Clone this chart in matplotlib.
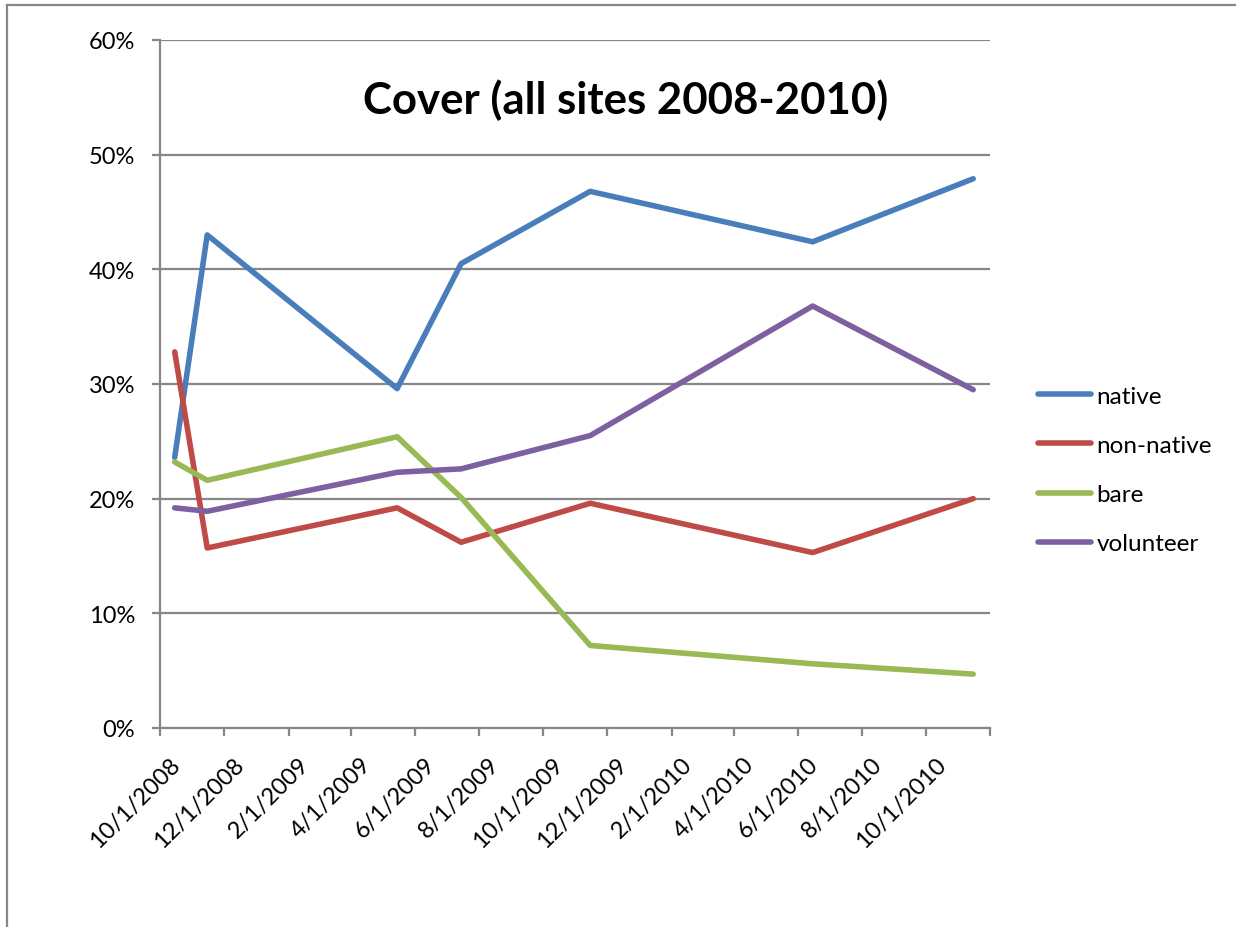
import matplotlib
matplotlib.use("Agg")
import matplotlib.pyplot as plt
import matplotlib.dates as mdates
from matplotlib.transforms import ScaledTranslation
from matplotlib.lines import Line2D
import datetime as dt

plt.rcParams['font.family'] = ['Lato', 'DejaVu Sans']

# ---- data ----
sample_dates = ["2008-10-15", "2008-11-15", "2009-05-15", "2009-07-15",
                "2009-11-15", "2010-06-15", "2010-11-15"]
native = [23.6, 43.0, 29.6, 40.5, 46.8, 42.4, 47.9]
non_native = [32.8, 15.7, 19.2, 16.2, 19.6, 15.3, 20.0]
bare = [23.2, 21.6, 25.4, 20.1, 7.2, 5.6, 4.7]
volunteer = [19.2, 18.9, 22.3, 22.6, 25.5, 36.8, 29.5]
series_names = ["native", "non-native", "bare", "volunteer"]
series_colors = ["#4A7EBB", "#BE4B48", "#98B954", "#7D60A0"]
tick_dates = ["2008-10-01", "2008-12-01", "2009-02-01", "2009-04-01", "2009-06-01",
              "2009-08-01", "2009-10-01", "2009-12-01", "2010-02-01", "2010-04-01",
              "2010-06-01", "2010-08-01", "2010-10-01", "2010-12-01"]
y_ticks = [0, 10, 20, 30, 40, 50, 60]
title = "Cover (all sites 2008-2010)"

W, H = 1236, 928
fig = plt.figure(figsize=(W / 100, H / 100), dpi=100)
ax = fig.add_axes([160 / W, 1 - 729 / H, 830 / W, 688 / H])

xd = [dt.datetime.strptime(s, "%Y-%m-%d") for s in sample_dates]
td = [dt.datetime.strptime(s, "%Y-%m-%d") for s in tick_dates]

for vals, name, col in zip([native, non_native, bare, volunteer], series_names, series_colors):
    ax.plot(xd, vals, color=col, lw=4.0, solid_capstyle='round',
            solid_joinstyle='round', label=name, zorder=3)

grid_col = "#878787"
ax.set_xlim(td[0], td[-1])
ax.set_ylim(0, 60)
ax.set_yticks(y_ticks)
ax.set_yticklabels([f"{v}%" for v in y_ticks])
ax.set_xticks([mdates.date2num(d) for d in td])
ax.set_xticklabels([f"{d.month}/{d.day}/{d.year}" for d in td[:-1]] + [""])
ax.yaxis.grid(True, color=grid_col, lw=1.6, zorder=0)
for s in ["top", "right"]:
    ax.spines[s].set_visible(False)
for s in ["left", "bottom"]:
    ax.spines[s].set_color(grid_col)
    ax.spines[s].set_linewidth(1.6)
ax.tick_params(axis='both', direction='out', length=5.8, width=1.6, color=grid_col,
               labelsize=17, labelcolor='black')
ax.tick_params(axis='y', pad=12)

for lab in ax.get_xticklabels():
    lab.set_rotation(45)
    lab.set_ha('right')
    lab.set_va('center')
    lab.set_rotation_mode('anchor')
    lab.set_transform(lab.get_transform() + ScaledTranslation(0.17, -0.20, fig.dpi_scale_trans))

fig.text(626 / W, 1 - 100 / H, title, ha='center', va='center',
         fontsize=31.5, fontweight='bold')

fig.legend(loc='center left', bbox_to_anchor=(1038 / W, 1 - 471 / H),
           bbox_transform=fig.transFigure, frameon=False, fontsize=17.5,
           handlelength=2.2, handletextpad=0.2, labelspacing=1.16,
           borderpad=0, borderaxespad=0)

# chart border
fig.add_artist(Line2D([7 / W, 7 / W], [0, 1 - 6 / H], transform=fig.transFigure,
                      color=grid_col, lw=1.6))
fig.add_artist(Line2D([7 / W, 1], [1 - 6 / H, 1 - 6 / H], transform=fig.transFigure,
                      color=grid_col, lw=1.6))

fig.savefig("out.png", dpi=100)
